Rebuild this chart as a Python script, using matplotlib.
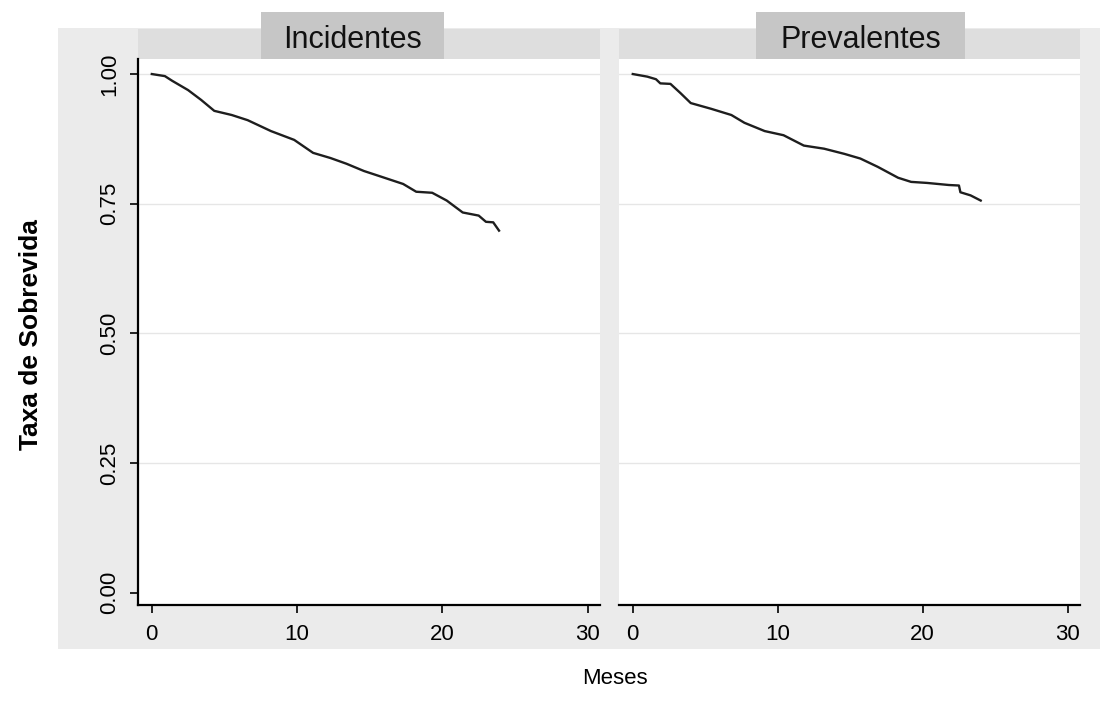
import matplotlib.pyplot as plt
from matplotlib.patches import Rectangle

# curvas de sobrevida (meses, taxa)
inc_meses = [0, 0.9, 1.4, 2.5, 3.4, 4.3, 5.5, 6.6, 8.2, 9.8, 11.1, 12.3, 13.4,
             14.6, 15.9, 17.3, 18.2, 19.3, 20.3, 21.4, 22.5, 23.0, 23.5, 23.9]
inc_taxa = [1.0, 0.996, 0.987, 0.969, 0.950, 0.929, 0.921, 0.911, 0.890, 0.873,
            0.848, 0.838, 0.827, 0.813, 0.801, 0.788, 0.773, 0.771, 0.756, 0.733,
            0.727, 0.715, 0.714, 0.698]

prev_meses = [0, 1.0, 1.6, 1.9, 2.6, 3.3, 4.0, 5.4, 6.8, 7.7, 9.1, 10.4, 11.8,
              13.2, 14.6, 15.7, 16.9, 18.3, 19.2, 20.3, 21.8, 22.5, 22.6, 23.3, 24.0]
prev_taxa = [1.0, 0.995, 0.990, 0.982, 0.981, 0.963, 0.944, 0.933, 0.921, 0.906,
             0.890, 0.882, 0.862, 0.856, 0.846, 0.837, 0.821, 0.800, 0.792, 0.790,
             0.786, 0.785, 0.772, 0.766, 0.756]

grupos = ['Incidentes', 'Prevalentes']
xticks = [0, 10, 20, 30]
yticks = [0.00, 0.25, 0.50, 0.75, 1.00]

W, H = 1105, 716
fig = plt.figure(figsize=(W / 100, H / 100), dpi=100)
fig.patch.set_facecolor('white')
fonte = ['Liberation Sans', 'DejaVu Sans']


def px(x0, y0, x1, y1):
    # pixels (origem em cima) -> fracao da figura
    return [x0 / W, 1 - y1 / H, (x1 - x0) / W, (y1 - y0) / H]


def retangulo(x0, y0, x1, y1, cor, z=-2):
    b = px(x0, y0, x1, y1)
    fig.patches.append(Rectangle((b[0], b[1]), b[2], b[3], transform=fig.transFigure,
                                 facecolor=cor, edgecolor='none', zorder=z))


# fundo cinza
retangulo(58, 28, 1100, 649, '#ebebeb', -3)

paineis = [(138, 600), (619, 1080)]
caixas = [(261, 444), (756, 965)]
dados = [(inc_meses, inc_taxa), (prev_meses, prev_taxa)]

eixos = []
for i, (x0, x1) in enumerate(paineis):
    ax = fig.add_axes(px(x0, 59, x1, 605))
    ax.set_facecolor('white')
    ax.plot(dados[i][0], dados[i][1], color='#1e1e1e', lw=1.7)
    ax.set_xlim(-0.95, 30.85)
    ax.set_ylim(-0.024, 1.029)
    ax.set_xticks(xticks)
    ax.set_yticks(yticks)
    ax.set_yticklabels(['%.2f' % v for v in yticks])
    for y in yticks[1:]:
        ax.axhline(y, color='#e6e6e6', lw=1.0, zorder=0)
    for s in ['top', 'right']:
        ax.spines[s].set_visible(False)
    ax.spines['bottom'].set_linewidth(1.6)
    ax.spines['left'].set_linewidth(1.6)
    ax.tick_params(axis='x', length=6, width=1.2, pad=8, labelsize=16)
    ax.tick_params(axis='y', length=6, width=1.2, pad=7, labelsize=16, labelrotation=90)
    for lab in ax.get_xticklabels() + ax.get_yticklabels():
        lab.set_family(fonte)
    for lab in ax.get_yticklabels():
        lab.set_va('center')
    if i == 1:
        ax.spines['left'].set_visible(False)
        ax.tick_params(axis='y', left=False, labelleft=False)
    eixos.append(ax)

    # faixa do titulo
    retangulo(x0, 29, x1, 59, '#dedede')
    c0, c1 = caixas[i]
    retangulo(c0, 12, c1, 67, '#c6c6c6', -1)
    fig.text((c0 + c1) / 2 / W, 1 - 40 / H, grupos[i], ha='center', va='center',
             fontsize=22, family=fonte, color='#111111')

fig.text(615 / W, 1 - 679 / H, 'Meses', ha='center', va='center', fontsize=16,
         family=fonte)
fig.text(31 / W, 1 - 335 / H, 'Taxa de Sobrevida', ha='center', va='center',
         fontsize=19, fontweight='bold', rotation=90, family=fonte)

fig.savefig('out.png', dpi=100)
